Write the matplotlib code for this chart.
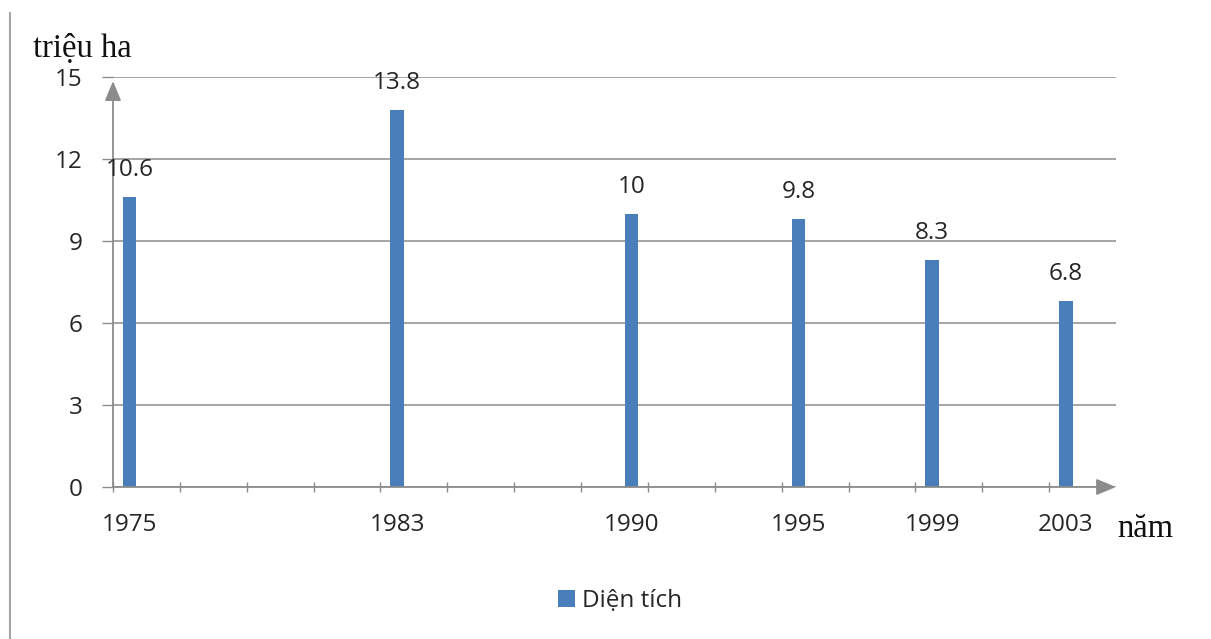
import matplotlib
matplotlib.use("Agg")
import matplotlib.pyplot as plt
from matplotlib.lines import Line2D
from matplotlib.patches import Patch

years = [1975, 1983, 1990, 1995, 1999, 2003]
area = [10.6, 13.8, 10, 9.8, 8.3, 6.8]
area_labels = ["10.6", "13.8", "10", "9.8", "8.3", "6.8"]
y_ticks = [0, 3, 6, 9, 12, 15]
series_name = "Diện tích"

BLUE = "#4a7ebb"
GRAY = "#8c8c8c"
TXT = "#262626"

plt.rcParams["font.family"] = ["Open Sans", "DejaVu Sans"]

fig = plt.figure(figsize=(12.11, 6.39), dpi=100)
ax = fig.add_axes([113 / 1211, 1 - 487 / 639, 1003 / 1211, 410 / 639])

ax.bar(years, area, width=0.4, color=BLUE, zorder=3)

ax.set_xlim(1974.5, 2004.5)
ax.set_ylim(0, 15)

# year labels under the bars, small tick marks every two years
ax.set_xticks(years)
ax.set_xticklabels([str(y) for y in years])
ax.set_xticks([1974.5 + 2 * k for k in range(15)], minor=True)
ax.tick_params(axis="x", which="major", length=0, pad=19, labelsize=17.5, labelcolor=TXT)
ax.tick_params(axis="x", which="minor", length=7, width=1, direction="inout", color=GRAY)

ax.set_yticks(y_ticks)
ax.tick_params(axis="y", length=8, width=1, color=GRAY, pad=14, labelsize=17.5, labelcolor=TXT)

ax.grid(axis="y", color=GRAY, lw=1.1, zorder=0)
ax.set_axisbelow(True)
for s in ax.spines.values():
    s.set_visible(False)

# axes drawn as arrows
arrow = dict(arrowstyle="-|>,head_length=0.6,head_width=0.25", color=GRAY, lw=1.3,
             mutation_scale=20, shrinkA=0, shrinkB=0)
ax.annotate("", xy=(1, 0), xytext=(0, 0), xycoords="axes fraction", arrowprops=arrow, zorder=4)
ax.annotate("", xy=(0, 0.99), xytext=(0, 0), xycoords="axes fraction", arrowprops=arrow, zorder=4)

for x, v, lab in zip(years, area, area_labels):
    ax.annotate(lab, xy=(x, v), xytext=(0, 15), textcoords="offset points",
                ha="center", va="baseline", fontsize=17.5, color=TXT, zorder=5)

serif = ["Liberation Serif", "DejaVu Serif"]
fig.text(33 / 1211, 1 - 57 / 639, "triệu ha", family=serif, fontsize=23.5,
         ha="left", va="baseline", color="#111111")
fig.text(1117 / 1211, 1 - 537 / 639, "năm", family=serif, fontsize=23.5,
         ha="left", va="baseline", color="#111111")

fig.add_artist(Line2D([10.5 / 1211, 10.5 / 1211], [0, 1 - 13 / 639],
                      transform=fig.transFigure, color="#a6a6a6", lw=1.5))

fig.legend(handles=[Patch(facecolor=BLUE, label=series_name)], loc="center",
           bbox_to_anchor=(620 / 1211, 1 - 601 / 639), frameon=False,
           handlelength=0.7, handleheight=0.7, handletextpad=0.3, fontsize=17.5,
           labelcolor=TXT)

fig.savefig("out.png", dpi=100)
